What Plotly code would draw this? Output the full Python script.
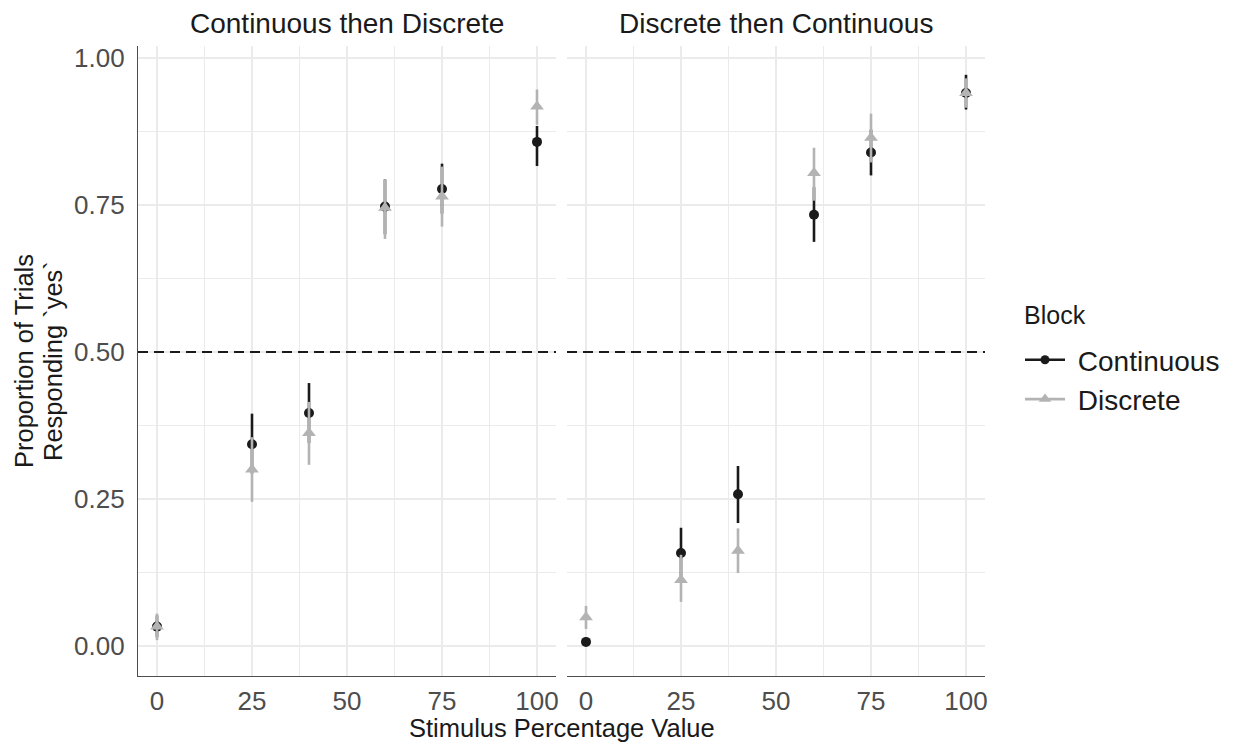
import plotly.graph_objects as go

# ---- data ----
stimulus = [0, 25, 40, 60, 75, 100]
panels = ["Continuous then Discrete", "Discrete then Continuous"]
blocks = ["Continuous", "Discrete"]

# Panel 1: Continuous then Discrete
cd_cont_mean = [0.033, 0.343, 0.396, 0.747, 0.777, 0.857]
cd_cont_lo = [0.015, 0.293, 0.345, 0.700, 0.735, 0.816]
cd_cont_hi = [0.052, 0.395, 0.447, 0.793, 0.820, 0.884]
cd_disc_mean = [0.033, 0.300, 0.362, 0.745, 0.764, 0.917]
cd_disc_lo = [0.010, 0.245, 0.308, 0.692, 0.713, 0.886]
cd_disc_hi = [0.055, 0.355, 0.415, 0.793, 0.815, 0.946]

# Panel 2: Discrete then Continuous
dc_cont_mean = [0.007, 0.158, 0.258, 0.733, 0.839, 0.940]
dc_cont_lo = [0.001, 0.115, 0.209, 0.687, 0.800, 0.912]
dc_cont_hi = [0.014, 0.201, 0.306, 0.780, 0.878, 0.971]
dc_disc_mean = [0.049, 0.112, 0.162, 0.804, 0.864, 0.940]
dc_disc_lo = [0.029, 0.075, 0.124, 0.757, 0.822, 0.915]
dc_disc_hi = [0.068, 0.155, 0.200, 0.847, 0.905, 0.965]

x_ticks = [0, 25, 50, 75, 100]
y_ticks = [0.0, 0.25, 0.5, 0.75, 1.0]
y_tick_text = ["0.00", "0.25", "0.50", "0.75", "1.00"]
y_title_lines = ["Proportion of Trials", "Responding `yes`"]
x_title = "Stimulus Percentage Value"
legend_title = "Block"

colors = {"Continuous": "#1a1a1a", "Discrete": "#b3b3b3"}
symbols = {"Continuous": "circle", "Discrete": "triangle-up"}
msize = {"Continuous": 10, "Discrete": 12}

FONT = "Liberation Sans, Arial, sans-serif"

series = [
    ("x", "y", "Continuous", cd_cont_mean, cd_cont_lo, cd_cont_hi),
    ("x", "y", "Discrete", cd_disc_mean, cd_disc_lo, cd_disc_hi),
    ("x2", "y2", "Continuous", dc_cont_mean, dc_cont_lo, dc_cont_hi),
    ("x2", "y2", "Discrete", dc_disc_mean, dc_disc_lo, dc_disc_hi),
]

fig = go.Figure()
for xa, ya, blk, mean, lo, hi in series:
    fig.add_trace(go.Scatter(
        x=stimulus, y=mean, xaxis=xa, yaxis=ya, mode="markers",
        marker=dict(color=colors[blk], symbol=symbols[blk], size=msize[blk], line=dict(width=0)),
        error_y=dict(type="data", symmetric=False,
                     array=[h - m for h, m in zip(hi, mean)],
                     arrayminus=[m - l for m, l in zip(mean, lo)],
                     color=colors[blk], thickness=2.6, width=0),
        showlegend=False, name=blk,
    ))

# legend-only entries (line + point glyph)
for blk in blocks:
    fig.add_trace(go.Scatter(
        x=[None], y=[None], xaxis="x", yaxis="y", mode="lines+markers", name="\u00a0" + blk,
        line=dict(color=colors[blk], width=2.6),
        marker=dict(color=colors[blk], symbol=symbols[blk], size=msize[blk] - 1),
    ))

# page body has an 8px margin: figure coords = viewport coords - 8
# (figure is made a little wider than the window so the legend never squeezes the panels)
OFF = 8
W, H = 1270, 745 - OFF
L, T = 138 - OFF, 46 - OFF
R = W - (985 - OFF)
B = H - (676 - OFF)
pw = W - L - R
ph = H - T - B
d1 = (556 - 138) / pw
d2 = (567 - 138) / pw

grid = "#ebebeb"
axcommon = dict(
    range=[-5, 105], tickvals=x_ticks, ticktext=[str(v) for v in x_ticks],
    showgrid=True, gridcolor=grid, gridwidth=1.5,
    minor=dict(showgrid=True, gridcolor=grid, gridwidth=1.2, tick0=0, dtick=12.5),
    zeroline=False, showline=True, linecolor="#4d4d4d", linewidth=1.3,
    ticks="outside", ticklen=2, tickcolor="rgba(0,0,0,0)",
    tickfont=dict(family=FONT, size=26, color="#4d4d4d"),
)
yrange = [-0.051, 1.02]
ycommon = dict(
    range=yrange, tickvals=y_ticks,
    showgrid=True, gridcolor=grid, gridwidth=1.5,
    minor=dict(showgrid=True, gridcolor=grid, gridwidth=1.2, tick0=0, dtick=0.125),
    zeroline=False,
)

dash = dict(color="#1a1a1a", width=2, dash="10px,6px")

fig.update_layout(
    width=W, height=H,
    margin=dict(l=L, r=R, t=T, b=B),
    paper_bgcolor="white", plot_bgcolor="white",
    font=dict(family=FONT, color="#1a1a1a"),
    xaxis=dict(domain=[0, d1], anchor="y", **axcommon),
    xaxis2=dict(domain=[d2, 1], anchor="y2", **axcommon),
    yaxis=dict(domain=[0, 1], anchor="x", ticktext=y_tick_text,
               showline=True, linecolor="#4d4d4d", linewidth=1.3,
               ticks="outside", ticklen=7, tickcolor="rgba(0,0,0,0)",
               tickfont=dict(family=FONT, size=26, color="#4d4d4d"), **ycommon),
    yaxis2=dict(domain=[0, 1], anchor="x2", showticklabels=False, showline=False, **ycommon),
    legend=dict(
        x=(1020 - 138) / pw, y=1 - (335 - 46) / ph, xanchor="left", yanchor="top",
        font=dict(family=FONT, size=28, color="#1a1a1a"),
        bgcolor="rgba(0,0,0,0)", itemwidth=40,
    ),
    shapes=[
        dict(type="line", xref="x domain", yref="y", x0=0, x1=1, y0=0.5, y1=0.5, line=dash),
        dict(type="line", xref="x2 domain", yref="y2", x0=0, x1=1, y0=0.5, y1=0.5, line=dash),
    ],
    annotations=[
        dict(text=panels[0], xref="paper", yref="paper", x=d1 / 2, y=1, yshift=5,
             xanchor="center", yanchor="bottom", showarrow=False,
             font=dict(family=FONT, size=28, color="#1a1a1a")),
        dict(text=panels[1], xref="paper", yref="paper", x=(d2 + 1) / 2, y=1, yshift=5,
             xanchor="center", yanchor="bottom", showarrow=False,
             font=dict(family=FONT, size=28, color="#1a1a1a")),
        dict(text=x_title, xref="paper", yref="paper", x=0.5, y=0,
             yshift=-36, xanchor="center", yanchor="top", showarrow=False,
             font=dict(family=FONT, size=25.5, color="#1a1a1a")),
        dict(text=y_title_lines[0], xref="paper", yref="paper",
             x=-(138 - 24) / pw, y=0.5, xanchor="center", yanchor="middle", textangle=-90,
             showarrow=False, font=dict(family=FONT, size=25.5, color="#1a1a1a")),
        dict(text=y_title_lines[1], xref="paper", yref="paper",
             x=-(138 - 53) / pw, y=0.5, xanchor="center", yanchor="middle", textangle=-90,
             showarrow=False, font=dict(family=FONT, size=25.5, color="#1a1a1a")),
        dict(text=legend_title, xref="paper", yref="paper",
             x=(1022 - 138) / pw, y=1 - (315 - 46) / ph, xanchor="left", yanchor="middle",
             showarrow=False, font=dict(family=FONT, size=25, color="#1a1a1a")),
    ],
)

fig.write_html("out.html")
